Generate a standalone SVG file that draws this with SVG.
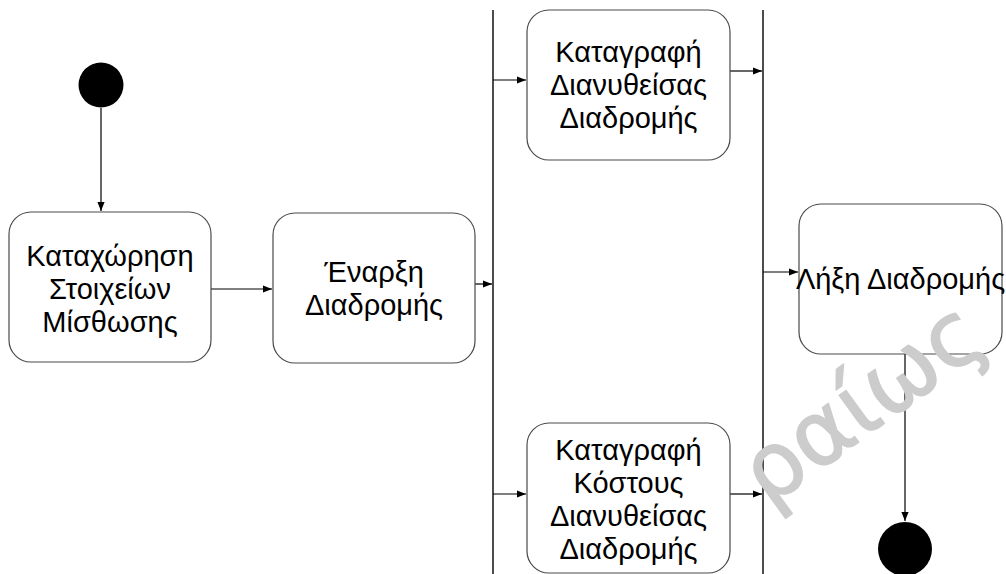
<svg xmlns="http://www.w3.org/2000/svg" width="1006" height="574" viewBox="0 0 1006 574">
<style>
.box{fill:#ffffff;stroke:#4a4a4a;stroke-width:1.2}
.lbl{font-family:"Liberation Sans",Arial,sans-serif;font-size:29px;fill:#000000;text-anchor:middle}
.edge{stroke:#000000;stroke-width:1.2;fill:none}
.bar{stroke:#000000;stroke-width:1.4}
.wm{font-family:"DejaVu Sans",sans-serif;font-size:90px;fill:#cccccc;stroke:#cccccc;stroke-width:1.5;stroke-linejoin:round}
</style>
<defs>
<marker id="arr" viewBox="0 0 10 10" refX="10" refY="5" markerWidth="9" markerHeight="9" markerUnits="userSpaceOnUse" orient="auto">
<path d="M0,1 L10,5 L0,9 Z" fill="#000000"/>
</marker>
</defs>
<rect width="1006" height="574" fill="#ffffff"/>
<g id="connectors">
<line class="edge" x1="101" y1="108" x2="101" y2="211" marker-end="url(#arr)"/>
<line class="edge" x1="211" y1="289" x2="272" y2="289" marker-end="url(#arr)"/>
<line class="edge" x1="475" y1="284" x2="492" y2="284" marker-end="url(#arr)"/>
<line class="edge" x1="493" y1="80" x2="526" y2="80" marker-end="url(#arr)"/>
<line class="edge" x1="493" y1="494" x2="526" y2="494" marker-end="url(#arr)"/>
<line class="edge" x1="730" y1="71" x2="762" y2="71" marker-end="url(#arr)"/>
<line class="edge" x1="730" y1="494" x2="762" y2="494" marker-end="url(#arr)"/>
<line class="edge" x1="763" y1="272" x2="798" y2="272" marker-end="url(#arr)"/>
<line class="edge" x1="905" y1="354" x2="905" y2="521" marker-end="url(#arr)"/>
</g>
<g id="start"><circle cx="101" cy="85" r="22.5" fill="#000000"/></g>
<g id="fork"><line class="bar" x1="493" y1="10" x2="493" y2="574"/></g>
<g id="join"><line class="bar" x1="763" y1="10" x2="763" y2="574"/></g>
<g id="n1">
<rect class="box" x="9" y="212" width="202" height="150" rx="22"/>
<text class="lbl" x="110" y="266">Καταχώρηση</text>
<text class="lbl" x="110" y="299">Στοιχείων</text>
<text class="lbl" x="110" y="332">Μίσθωσης</text>
</g>
<g id="n2">
<rect class="box" x="273" y="213" width="202" height="150" rx="22"/>
<text class="lbl" x="374" y="282">Έναρξη</text>
<text class="lbl" x="374" y="315">Διαδρομής</text>
</g>
<g id="n3">
<rect class="box" x="527" y="10" width="203" height="150" rx="22"/>
<text class="lbl" x="628.5" y="62">Καταγραφή</text>
<text class="lbl" x="628.5" y="95">Διανυθείσας</text>
<text class="lbl" x="628.5" y="128">Διαδρομής</text>
</g>
<g id="n4">
<rect class="box" x="527" y="423" width="203" height="150" rx="22"/>
<text class="lbl" x="628.5" y="460">Καταγραφή</text>
<text class="lbl" x="628.5" y="493">Κόστους</text>
<text class="lbl" x="628.5" y="526">Διανυθείσας</text>
<text class="lbl" x="628.5" y="559">Διαδρομής</text>
</g>
<g id="n5">
<rect class="box" x="799" y="204" width="203" height="150" rx="22"/>
<text class="lbl" x="900.5" y="289">Λήξη Διαδρομής</text>
</g>
<g id="end"><circle cx="905" cy="549" r="27" fill="#000000"/></g>
<text class="wm" x="768" y="508" transform="rotate(-36 768 508)">ραίως</text>
</svg>
